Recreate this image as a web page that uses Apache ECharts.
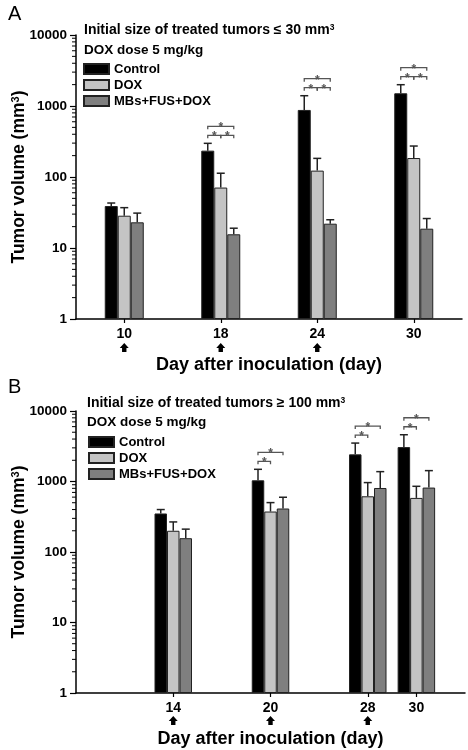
<!DOCTYPE html>
<html><head><meta charset="utf-8">
<script src="https://cdn.jsdelivr.net/npm/echarts@6/dist/echarts.min.js"></script>
<style>html,body{margin:0;padding:0;background:#fff}#c{width:468px;height:750px}</style>
</head><body><div id="c"></div>
<script>
// ---------- data ----------
const groups = ['Control', 'DOX', 'MBs+FUS+DOX'];
// Panel A
const daysA = ['10', '18', '24', '30'];
const controlA = [39, 235, 880, 1510];
const controlErrA = [4, 63, 516, 485];
const doxA = [28.5, 71, 123, 185];
const doxErrA = [8.5, 42, 60, 88];
const mbsA = [23, 15.6, 22, 18.7];
const mbsErrA = [8, 3.4, 3, 7.3];
const treatedA = ['10', '18', '24'];
const sigDaysA = ['18', '24', '30'];   // Control-DOX, DOX-MBs, Control-MBs
// Panel B
const daysB = ['14', '20', '28', '30'];
const controlB = [352, 1040, 2426, 3076];
const controlErrB = [48, 449, 1082, 1531];
const doxB = [200, 375, 617, 585];
const doxErrB = [67, 127, 348, 270];
const mbsB = [157, 414, 809, 820];
const mbsErrB = [54, 184, 571, 606];
const treatedB = ['14', '20', '28'];
const sigDaysB = ['20', '28', '30'];   // Control-DOX, Control-MBs
const yTickValues = [1, 10, 100, 1000, 10000];

// ---------- layout ----------
const FONT = 'Liberation Sans, Arial, sans-serif';
const BW_A = 13, BW_B = 12.5;
const slotsB = [2, 4, 6, 7];   // positions of days on panel B's axis
const nSlotsB = 9;
const colors = ['#000000', '#c4c4c4', '#7f7f7f'];

const catsB = Array.from({length: nSlotsB}, (_, i) => '_' + i);
slotsB.forEach((s, j) => { catsB[s] = daysB[j]; });
function spread(arr) {
  const out = Array(nSlotsB).fill('-');
  slotsB.forEach((s, j) => { out[s] = arr[j]; });
  return out;
}
const idxA = d => daysA.indexOf(d);
const idxB = d => slotsB[daysB.indexOf(d)];

function errData(vals, errs, k, bw, idxOf) {
  return vals.map((v, j) => [idxOf(j), v, v + errs[j], k, bw]);
}
function errItem(params, api) {
  const x = api.value(0), m = api.value(1), t = api.value(2), k = api.value(3), bw = api.value(4);
  const p1 = api.coord([x, m]), p2 = api.coord([x, t]);
  const cx = p1[0] + k * bw;
  const st = {stroke: '#222', lineWidth: 1.5};
  return {type: 'group', children: [
    {type: 'line', shape: {x1: cx, y1: p1[1], x2: cx, y2: p2[1]}, style: st},
    {type: 'line', shape: {x1: cx - 4, y1: p2[1], x2: cx + 4, y2: p2[1]}, style: st}
  ]};
}
function bracket(xa, xb, y) {
  return [
    {type: 'polyline', shape: {points: [[xa, y + 3], [xa, y], [xb, y], [xb, y + 3]]},
     style: {stroke: '#555', lineWidth: 1.3, fill: null}},
    {type: 'text', style: {text: '*', x: (xa + xb) / 2, y: y + 1.5, align: 'center', verticalAlign: 'middle',
     fontSize: 12, fontWeight: 'bold', fill: '#555', fontFamily: FONT}}
  ];
}
function sigItem(threeWay) {
  return function (params, api) {
    const x = api.value(0), ref = api.value(1), bw = api.value(2);
    const p = api.coord([x, ref]);
    const xa = p[0] - bw, xb = p[0], xc = p[0] + bw;
    const yi = p[1] - 8, yo = yi - 9;
    let ch = bracket(xa, xb, yi);
    if (threeWay) ch = ch.concat(bracket(xb, xc, yi));
    ch = ch.concat(bracket(xa, xc, yo));
    return {type: 'group', children: ch};
  };
}
function arrowItem(params, api) {
  const p = api.coord([api.value(0), 1]);
  const cx = p[0], y0 = p[1] + api.value(1);
  return {type: 'polygon', shape: {points: [[cx, y0], [cx - 4.5, y0 + 5], [cx - 2.2, y0 + 5], [cx - 2.2, y0 + 9],
    [cx + 2.2, y0 + 9], [cx + 2.2, y0 + 5], [cx + 4.5, y0 + 5]]}, style: {fill: '#000'}};
}
const minorVals = [];
for (let k = 0; k < 4; k++) for (let m = 2; m <= 9; m++) minorVals.push(m * Math.pow(10, k));
function minorItem(params, api) {
  const y = api.coord([0, api.value(1)])[1];
  const x = params.coordSys.x;
  return {type: 'line', shape: {x1: x - 4, y1: y, x2: x, y2: y}, style: {stroke: '#000', lineWidth: 1}};
}

function yAxis(gi) {
  return {
    type: 'log', logBase: 10, min: 1, max: 10000, gridIndex: gi,
    name: '{a|Tumor volume (mm}{s|3}{a|)}', nameLocation: 'middle', nameGap: 48, nameMoveOverlap: false,
    nameTextStyle: {rich: {
      a: {fontSize: 17.5, fontWeight: 'bold', color: '#000', fontFamily: FONT},
      s: {fontSize: 11, fontWeight: 'bold', color: '#000', fontFamily: FONT, verticalAlign: 'top'}}},
    axisLine: {show: true, lineStyle: {color: '#000', width: 1.5}},
    axisTick: {show: true, length: 6, lineStyle: {color: '#000', width: 1.2}},
    axisLabel: {color: '#000', fontWeight: 'bold', fontSize: 13.5, fontFamily: FONT, margin: 9,
      formatter: v => (yTickValues.indexOf(v) >= 0 ? String(v) : '')},
    splitLine: {show: false}
  };
}
function xAxisBase(gi, data, extra) {
  return Object.assign({
    type: 'category', gridIndex: gi, data: data,
    name: 'Day after inoculation (day)', nameLocation: 'middle', nameGap: 37,
    nameTextStyle: {fontSize: 18, fontWeight: 'bold', color: '#000', fontFamily: FONT},
    axisLine: {show: true, lineStyle: {color: '#000', width: 1.5}},
    axisTick: {show: true, length: 4, alignWithLabel: true, lineStyle: {color: '#000', width: 1.2}},
    axisLabel: {color: '#000', fontWeight: 'bold', fontSize: 14, fontFamily: FONT, margin: 8},
    splitLine: {show: false}
  }, extra || {});
}

function bars(vals, i, gi, bw) {
  return {type: 'bar', name: groups[i], xAxisIndex: gi, yAxisIndex: gi, data: vals,
    barWidth: bw, barGap: '0%', itemStyle: {color: colors[i], borderColor: '#222', borderWidth: 1}, z: 2};
}
function legend(left, top) {
  return {orient: 'vertical', left: left, top: top, padding: 0, itemWidth: 25, itemHeight: 10, itemGap: 2,
    icon: 'rect', data: groups, selectedMode: false,
    textStyle: {fontSize: 13, fontWeight: 'bold', color: '#000', fontFamily: FONT, lineHeight: 14}};
}
function textG(txt, left, top, size, weight) {
  return {type: 'text', left: left, top: top, style: {text: txt, fontSize: size, fontWeight: weight,
    fill: '#000', fontFamily: FONT}};
}
function titleG(txt, left, top) {
  return {type: 'text', left: left, top: top, style: {
    text: '{a|' + txt + '}{s|3}',
    rich: {a: {fontSize: 14, fontWeight: 'bold', fill: '#000', fontFamily: FONT},
           s: {fontSize: 8.5, fontWeight: 'bold', fill: '#000', fontFamily: FONT, verticalAlign: 'top'}}}};
}

const chart = echarts.init(document.getElementById('c'), null, {renderer: 'canvas'});
chart.setOption({
  animation: false,
  backgroundColor: '#fff',
  grid: [
    {left: 76, right: 6, top: 35, height: 284, outerBoundsMode: 'none', containLabel: false},
    {left: 76, right: 3, top: 411, height: 282, outerBoundsMode: 'none', containLabel: false}
  ],
  xAxis: [
    xAxisBase(0, daysA),
    xAxisBase(1, catsB, {
      boundaryGap: false,
      axisTick: {show: true, length: 4, lineStyle: {color: '#000', width: 1.2},
        interval: (i, v) => v.charAt(0) !== '_'},
      axisLabel: {color: '#000', fontWeight: 'bold', fontSize: 14, fontFamily: FONT, margin: 8,
        interval: 0, formatter: v => (v.charAt(0) === '_' ? '' : v)}
    })
  ],
  yAxis: [yAxis(0), yAxis(1)],
  legend: [legend(83, 62), legend(88, 435)],
  graphic: [
    textG('A', 8, 4, 20, 'normal'),
    textG('B', 8, 377, 20, 'normal'),
    titleG('Initial size of treated tumors \u2264 30 mm', 84, 23),
    textG('DOX dose 5 mg/kg', 84, 43, 13.5, 'bold'),
    titleG('Initial size of treated tumors \u2265 100 mm', 87, 396),
    textG('DOX dose 5 mg/kg', 87, 415, 13.5, 'bold')
  ],
  series: [
    bars(controlA, 0, 0, BW_A), bars(doxA, 1, 0, BW_A), bars(mbsA, 2, 0, BW_A),
    bars(spread(controlB), 0, 1, BW_B), bars(spread(doxB), 1, 1, BW_B), bars(spread(mbsB), 2, 1, BW_B),
    {type: 'custom', xAxisIndex: 0, yAxisIndex: 0, renderItem: errItem, z: 3,
     data: [].concat(errData(controlA, controlErrA, -1, BW_A, j => j),
                     errData(doxA, doxErrA, 0, BW_A, j => j),
                     errData(mbsA, mbsErrA, 1, BW_A, j => j))},
    {type: 'custom', xAxisIndex: 1, yAxisIndex: 1, renderItem: errItem, z: 3,
     data: [].concat(errData(controlB, controlErrB, -1, BW_B, j => slotsB[j]),
                     errData(doxB, doxErrB, 0, BW_B, j => slotsB[j]),
                     errData(mbsB, mbsErrB, 1, BW_B, j => slotsB[j]))},
    {type: 'custom', xAxisIndex: 0, yAxisIndex: 0, renderItem: sigItem(true), z: 3, clip: false,
     data: sigDaysA.map(d => { const j = idxA(d); return [j, controlA[j] + controlErrA[j], BW_A]; })},
    {type: 'custom', xAxisIndex: 1, yAxisIndex: 1, renderItem: sigItem(false), z: 3, clip: false,
     data: sigDaysB.map(d => { const j = daysB.indexOf(d); return [idxB(d), controlB[j] + controlErrB[j], BW_B]; })},
    {type: 'custom', xAxisIndex: 0, yAxisIndex: 0, renderItem: arrowItem, z: 3, clip: false,
     data: treatedA.map(d => [idxA(d), 24])},
    {type: 'custom', xAxisIndex: 1, yAxisIndex: 1, renderItem: arrowItem, z: 3, clip: false,
     data: treatedB.map(d => [idxB(d), 23])},
    {type: 'custom', xAxisIndex: 0, yAxisIndex: 0, renderItem: minorItem, z: 3, clip: false,
     data: minorVals.map(v => [0, v])},
    {type: 'custom', xAxisIndex: 1, yAxisIndex: 1, renderItem: minorItem, z: 3, clip: false,
     data: minorVals.map(v => [0, v])}
  ]
});
</script>
</body></html>
